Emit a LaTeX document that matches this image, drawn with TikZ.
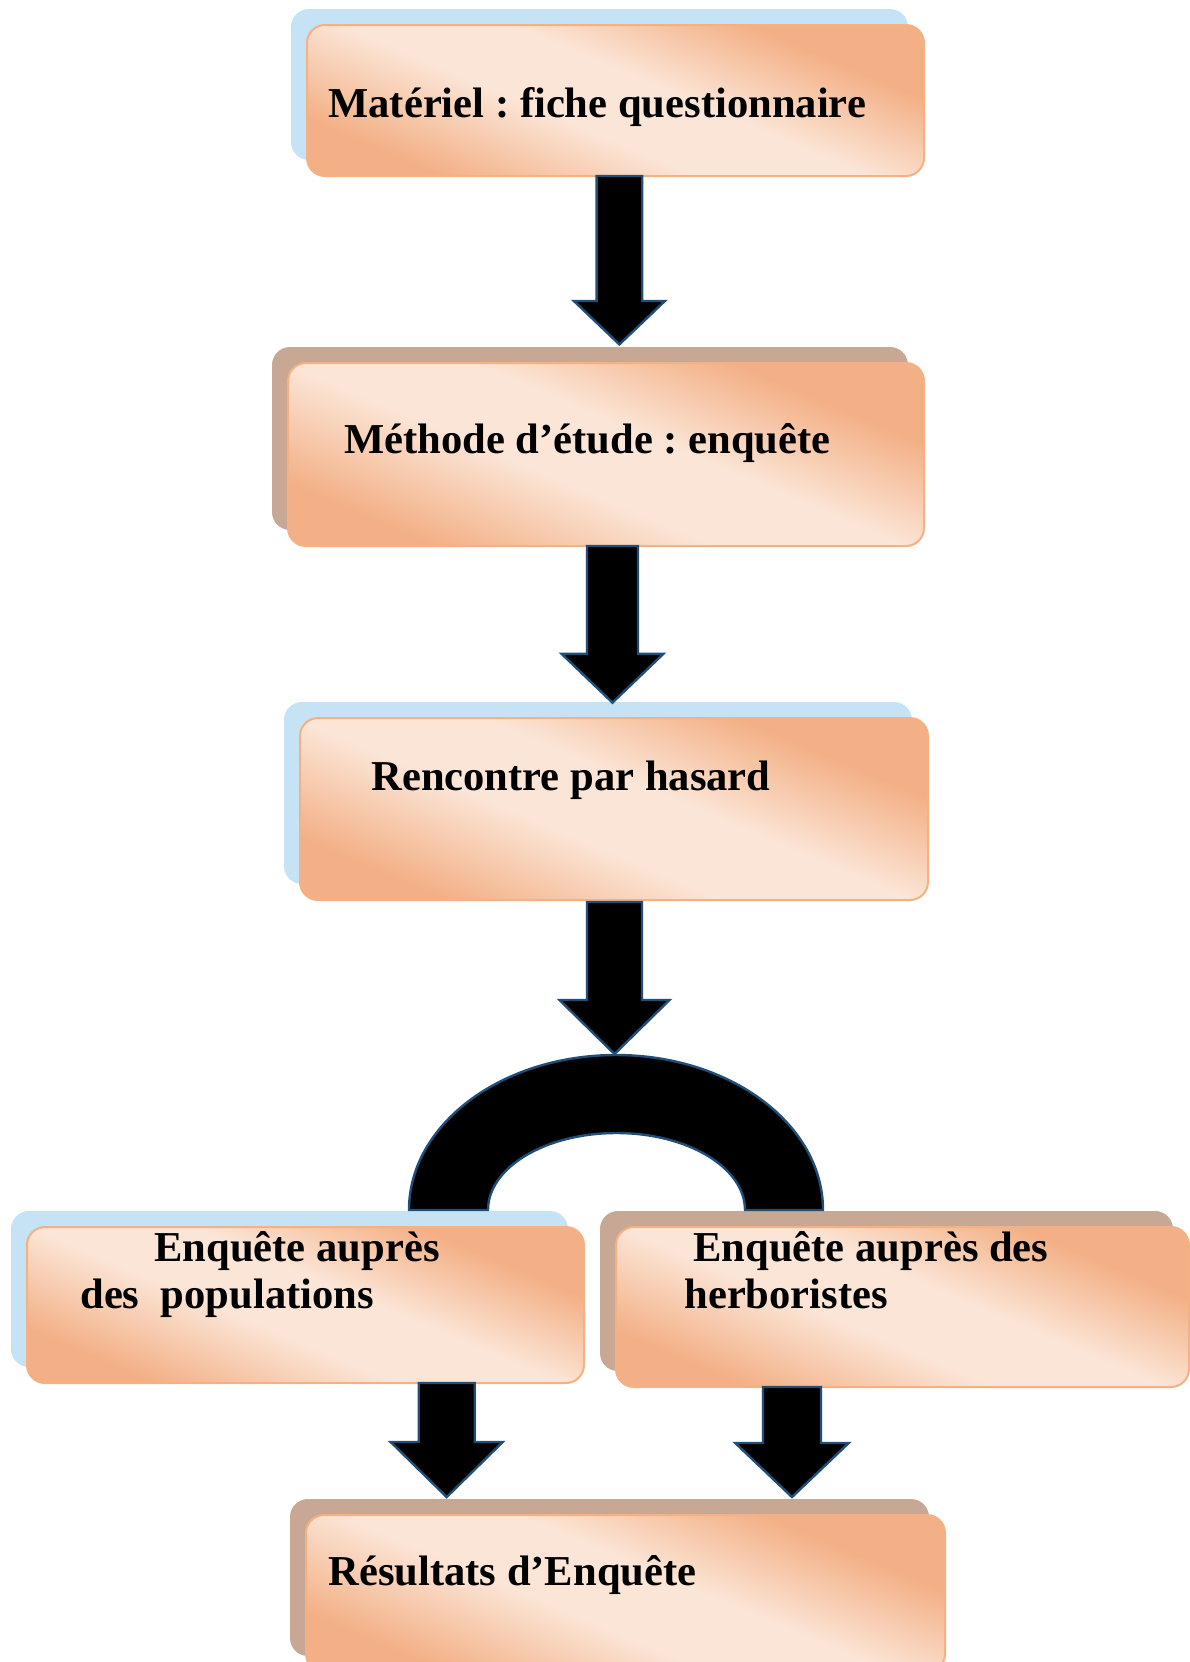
\documentclass[tikz,border=0pt]{standalone}
\usepackage{fontspec}
\setmainfont{Liberation Serif}
\frenchspacing
\definecolor{plight}{HTML}{FBE5D6}
\definecolor{pdark}{HTML}{F3B086}
\definecolor{pborder}{HTML}{F4B183}
\definecolor{shblue}{HTML}{C6E2F5}
\definecolor{shbrown}{HTML}{C8A894}
\definecolor{arrline}{HTML}{1F4E79}
\pgfdeclarehorizontalshading{peach}{100bp}{color(0bp)=(pdark); color(25bp)=(pdark); color(32bp)=(pdark); color(45bp)=(plight); color(54bp)=(plight); color(66bp)=(pdark); color(100bp)=(pdark)}
\def\gang{67}
\tikzset{
  boxborder/.style={rectangle, rounded corners=9pt, draw=pborder, line width=1pt, inner sep=0pt, outer sep=0pt},
  shadowbox/.style={rounded corners=9pt},
  lbl/.style={inner sep=0pt, anchor=base west, font=\fontsize{21.3}{24}\selectfont\bfseries},
  blockarrow/.style={fill=black, draw=arrline, line width=1.2pt, line join=miter}
}
% name, x1, y1, x2, y2, shadow colour (pixel coordinates, y downward)
\newcommand\mkbox[6]{%
  \fill[shadowbox, #6] (#2-16,-#3+16) rectangle (#4-16,-#5+16);
  \pgfmathsetmacro\bcx{(#2+#4)/2}%
  \pgfmathsetmacro\bcy{-(#3+#5)/2}%
  \pgfmathsetmacro\bhw{(#4-#2)/2*cos(\gang)+(#5-#3)/2*sin(\gang)}%
  \pgfmathsetmacro\bhh{(#4-#2)/2*sin(\gang)+(#5-#3)/2*cos(\gang)+4}%
  \begin{scope}
    \clip[rounded corners=9pt] (#2,-#3) rectangle (#4,-#5);
    \begin{scope}[transform canvas={shift={(\bcx,\bcy)}, rotate=\gang}]
      \shade[shading=peach] (-\bhw,-\bhh) rectangle (\bhw,\bhh);
    \end{scope}
  \end{scope}
  \node[boxborder, anchor=north west, minimum width={(#4-#2)*0.5pt}, minimum height={(#5-#3)*0.5pt}] (#1) at (#2,-#3) {};
}
% x centre, y top, y of head base, y tip, half shaft, half head
\newcommand\barrow[6]{%
  \filldraw[blockarrow] (#1-#5,-#2) -- (#1-#5,-#3) -- (#1-#6,-#3) -- (#1,-#4) -- (#1+#6,-#3) -- (#1+#5,-#3) -- (#1+#5,-#2) -- cycle;
}
\begin{document}
\begin{tikzpicture}[x=0.5pt,y=0.5pt]
\useasboundingbox (0,0) rectangle (1190,-1662);

\mkbox{b1}{307}{25}{924}{176}{shblue}
\mkbox{b2}{288}{363}{924}{546}{shbrown}
\mkbox{b3}{300}{718}{928}{900}{shblue}
\mkbox{b4}{27}{1227}{584}{1383}{shblue}
\mkbox{b5}{616}{1227}{1189}{1387}{shbrown}
\mkbox{b6}{306}{1515}{945}{1672}{shbrown}

\node[lbl] (t1) at (328,-117) {Matériel : fiche questionnaire};
\node[lbl] (t2) at (344,-453) {Méthode d’étude : enquête};
\node[lbl] (t3) at (371,-790) {Rencontre par hasard};
\node[lbl] (t4a) at (154,-1261) {Enquête auprès};
\node[lbl] (t4b) at (80,-1308) {des\ \ populations};
\node[lbl] (t5a) at (693,-1261) {Enquête auprès des};
\node[lbl] (t5b) at (684,-1308) {herboristes};
\node[lbl] (t6) at (328,-1585) {Résultats d’Enquête};

\barrow{619.4}{176}{301}{344.4}{22.8}{45.5}
\barrow{612.5}{546}{653.8}{702.6}{25.5}{50.9}
\barrow{614.5}{902}{1000}{1054}{27.5}{55}
\barrow{446.7}{1383}{1442}{1497}{28}{56}
\barrow{792}{1387}{1443}{1497}{29}{56.7}

\filldraw[blockarrow] (409,-1210) arc[start angle=180, end angle=0, x radius=103.5pt, y radius=77.5pt]
  -- (745,-1210) arc[start angle=0, end angle=180, x radius=64.25pt, y radius=38.5pt] -- cycle;
\end{tikzpicture}
\end{document}
